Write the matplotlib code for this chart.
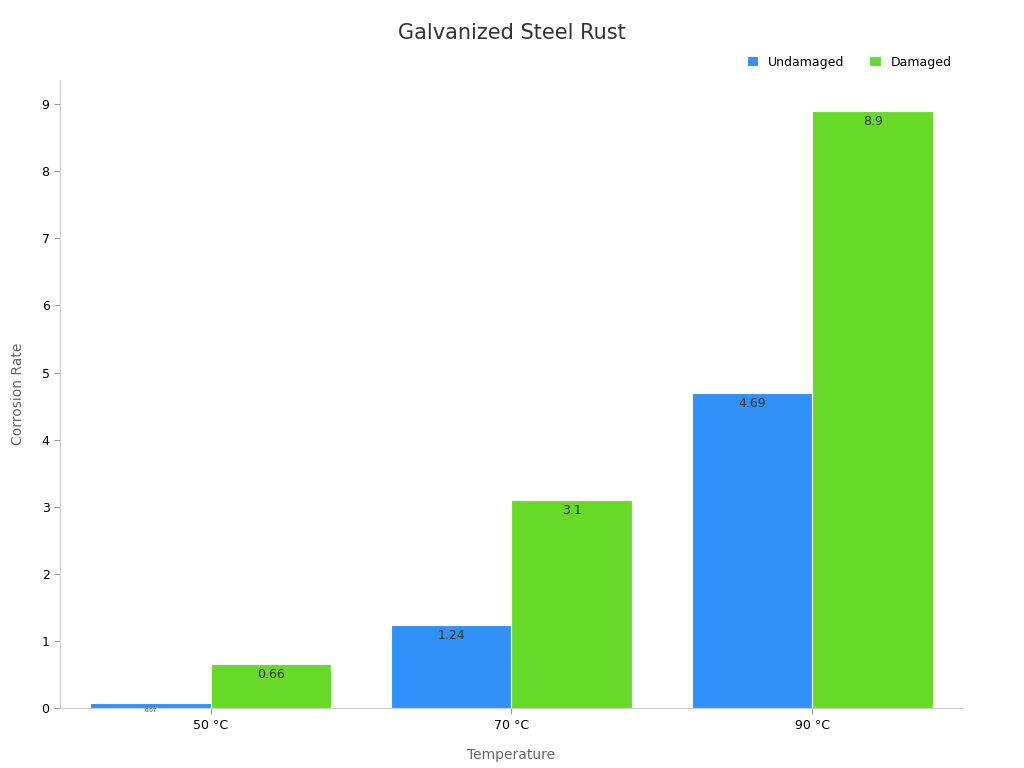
import matplotlib.pyplot as plt
import numpy as np

temps = ['50 °C', '70 °C', '90 °C']
undamaged = [0.07, 1.24, 4.69]
damaged = [0.66, 3.1, 8.9]

fig = plt.figure(figsize=(10.24, 7.68), dpi=100)
ax = fig.add_axes([0.0586, 0.078, 0.8818, 0.818])
x = np.arange(len(temps))
w = 0.4
b1 = ax.bar(x - w/2, undamaged, w, color='#3092f7', edgecolor='white', linewidth=0.8, label='Undamaged')
b2 = ax.bar(x + w/2, damaged, w, color='#66da26', edgecolor='white', linewidth=0.8, label='Damaged')
for bars, vals in ((b1, undamaged), (b2, damaged)):
    for r, v in zip(bars, vals):
        fs = 4 if v < 0.2 else 9
        ax.annotate(str(v), (r.get_x() + r.get_width()/2, v), xytext=(0, -3),
                    textcoords='offset points', ha='center', va='top', fontsize=fs, color='#333333')

ax.set_xlim(-0.5, 2.5)
ax.set_ylim(0, 9.36)
ax.set_xticks(x)
ax.set_xticklabels(temps)
ax.set_yticks(range(10))
ax.tick_params(labelsize=9, color='#999999', length=4)
for s in ('top', 'right'):
    ax.spines[s].set_visible(False)
for s in ('left', 'bottom'):
    ax.spines[s].set_color('#cccccc')
ax.set_xlabel('Temperature', fontsize=10, color='#666666', labelpad=12)
ax.set_ylabel('Corrosion Rate', fontsize=10, color='#666666', labelpad=12)
fig.suptitle('Galvanized Steel Rust', fontsize=15, color='#333333', y=0.97)
ax.legend(loc='lower right', bbox_to_anchor=(1.0, 1.0), ncol=2, frameon=False, fontsize=9,
          handlelength=0.9, handleheight=0.9, columnspacing=2)
fig.savefig('out.png', dpi=100)
